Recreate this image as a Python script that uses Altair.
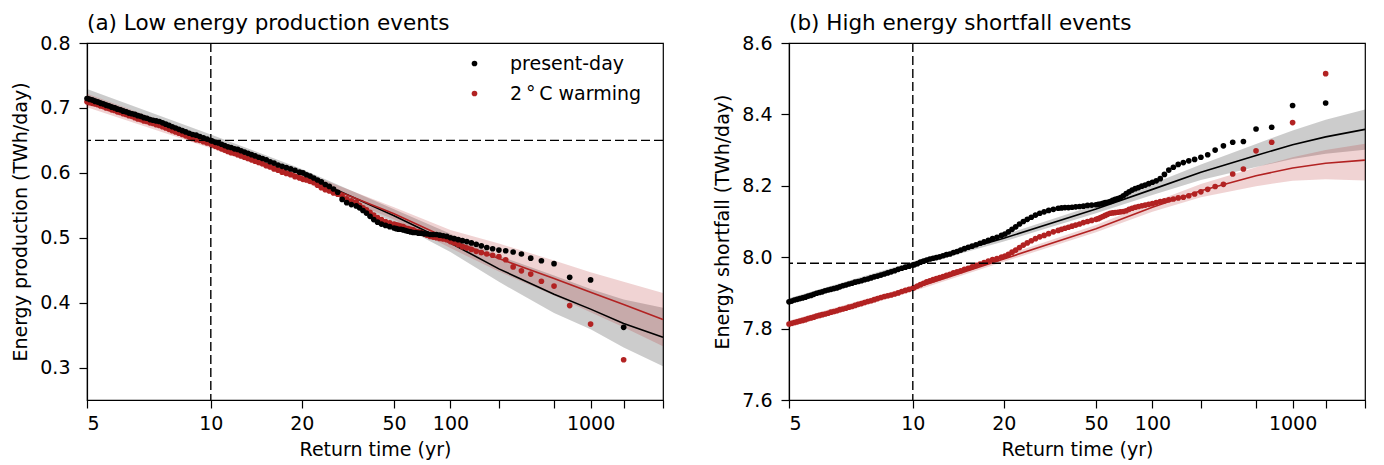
import math

import altair as alt
import pandas as pd

# Empirical return times come from rank in a 2000-year simulated record (T = N / rank).
N_YEARS = 2000
RANKS = (list(range(1, 41)) + list(range(42, 61, 2)) + list(range(63, 100, 3))
         + list(range(102, 199, 4)) + list(range(200, 401, 5)))

SERIES = ["present-day", "2\u2009\u00b0\u2009C warming"]
COLORS = ["#000000", "#b22222"]

# (a) daily energy production, ranked lowest first (TWh/day)
PROD_PRESENT = [
    0.362, 0.435, 0.439, 0.460, 0.4645, 0.4685, 0.475, 0.478, 0.480, 0.481,
    0.483, 0.485, 0.4875, 0.490, 0.492, 0.494, 0.4955, 0.497, 0.4985, 0.500,
    0.502, 0.503, 0.504, 0.505, 0.505, 0.505, 0.506, 0.506, 0.507, 0.507,
    0.508, 0.508, 0.509, 0.510, 0.511, 0.512, 0.513, 0.513, 0.514, 0.515,
    0.517, 0.519, 0.521, 0.524, 0.528, 0.533, 0.538, 0.542, 0.546, 0.549,
    0.551, 0.554, 0.559, 0.570, 0.575, 0.579, 0.582, 0.586, 0.589, 0.592,
    0.595, 0.597, 0.600,
    0.601, 0.604, 0.606, 0.608, 0.610, 0.612, 0.615, 0.617, 0.620, 0.622,
    0.624, 0.626, 0.628, 0.630, 0.632, 0.634, 0.636, 0.637, 0.639, 0.640,
    0.642, 0.644, 0.646, 0.647, 0.649,
    0.6497, 0.652, 0.654, 0.656, 0.658, 0.659, 0.661, 0.663, 0.665, 0.667,
    0.669, 0.671, 0.673, 0.675, 0.677, 0.679, 0.680, 0.681, 0.682, 0.684,
    0.685, 0.687, 0.688, 0.690, 0.691, 0.692, 0.694, 0.695, 0.697, 0.698,
    0.700, 0.701, 0.703, 0.704, 0.706, 0.707, 0.709, 0.710, 0.712, 0.713,
    0.7145,
]
PROD_WARM = [
    0.312, 0.367, 0.3955, 0.4255, 0.433, 0.444, 0.449, 0.455, 0.466, 0.471,
    0.473, 0.475, 0.477, 0.479, 0.482, 0.484, 0.486, 0.489, 0.492, 0.494,
    0.497, 0.498, 0.499, 0.500, 0.501, 0.502, 0.504, 0.506, 0.508, 0.509,
    0.510, 0.512, 0.513, 0.514, 0.515, 0.517, 0.518, 0.519, 0.520, 0.521,
    0.523, 0.525, 0.528, 0.531, 0.535, 0.539, 0.543, 0.546, 0.550, 0.555,
    0.557, 0.560, 0.564, 0.567, 0.569, 0.572, 0.574, 0.577, 0.581, 0.585,
    0.587, 0.589, 0.590,
    0.592, 0.594, 0.597, 0.599, 0.601, 0.604, 0.606, 0.609, 0.611, 0.614,
    0.616, 0.618, 0.620, 0.622, 0.624, 0.626, 0.628, 0.630, 0.631, 0.633,
    0.635, 0.637, 0.639, 0.641, 0.643,
    0.6445, 0.646, 0.648, 0.650, 0.651, 0.653, 0.655, 0.657, 0.659, 0.661,
    0.663, 0.665, 0.667, 0.669, 0.671, 0.673, 0.674, 0.676, 0.677, 0.679,
    0.680, 0.682, 0.683, 0.685, 0.687, 0.688, 0.690, 0.691, 0.693, 0.694,
    0.696, 0.697, 0.699, 0.700, 0.702, 0.703, 0.705, 0.706, 0.707, 0.708,
    0.7093,
]

# (b) daily energy shortfall, ranked highest first (TWh/day)
SHORT_PRESENT = [
    8.432, 8.425, 8.364, 8.359, 8.324, 8.322, 8.312, 8.300, 8.287, 8.280,
    8.274, 8.270, 8.265, 8.260, 8.252, 8.244, 8.232, 8.220, 8.214, 8.210,
    8.206, 8.202, 8.199, 8.195, 8.192, 8.188, 8.183, 8.178, 8.172, 8.167,
    8.164, 8.162, 8.159, 8.156, 8.154, 8.153, 8.151, 8.149, 8.148, 8.147,
    8.146, 8.145, 8.143, 8.142, 8.141, 8.140, 8.139, 8.139, 8.138, 8.137,
    8.134, 8.131, 8.127, 8.123, 8.118, 8.112, 8.106, 8.100, 8.093, 8.085,
    8.078, 8.071, 8.065,
    8.061, 8.056, 8.052, 8.047, 8.043, 8.039, 8.035, 8.031, 8.028, 8.024,
    8.020, 8.016, 8.013, 8.009, 8.007, 8.004, 8.001, 7.999, 7.997, 7.995,
    7.992, 7.989, 7.986, 7.982, 7.979,
    7.978, 7.975, 7.972, 7.969, 7.966, 7.962, 7.959, 7.956, 7.953, 7.950,
    7.947, 7.945, 7.942, 7.939, 7.937, 7.934, 7.932, 7.930, 7.927, 7.925,
    7.922, 7.920, 7.917, 7.914, 7.912, 7.910, 7.908, 7.906, 7.903, 7.901,
    7.899, 7.896, 7.893, 7.891, 7.888, 7.886, 7.884, 7.882, 7.880, 7.877,
    7.875,
]
SHORT_WARM = [
    8.514, 8.377, 8.322, 8.298, 8.247, 8.233, 8.204, 8.198, 8.190, 8.183,
    8.177, 8.172, 8.168, 8.166, 8.163, 8.161, 8.158, 8.156, 8.153, 8.150,
    8.148, 8.146, 8.144, 8.142, 8.140, 8.137, 8.134, 8.130, 8.128, 8.127,
    8.126, 8.125, 8.124, 8.123, 8.120, 8.117, 8.114, 8.111, 8.108, 8.106,
    8.103, 8.100, 8.097, 8.093, 8.090, 8.087, 8.084, 8.081, 8.078, 8.075,
    8.071, 8.066, 8.061, 8.057, 8.052, 8.046, 8.040, 8.034, 8.027, 8.020,
    8.014, 8.008, 8.003,
    8.000, 7.996, 7.993, 7.989, 7.985, 7.981, 7.977, 7.973, 7.969, 7.966,
    7.962, 7.959, 7.956, 7.952, 7.949, 7.946, 7.943, 7.940, 7.937, 7.934,
    7.931, 7.927, 7.923, 7.919, 7.915,
    7.913, 7.910, 7.907, 7.904, 7.900, 7.897, 7.894, 7.892, 7.890, 7.887,
    7.884, 7.881, 7.878, 7.876, 7.873, 7.870, 7.868, 7.865, 7.862, 7.860,
    7.857, 7.855, 7.853, 7.850, 7.848, 7.846, 7.843, 7.841, 7.839, 7.837,
    7.835, 7.832, 7.830, 7.828, 7.825, 7.823, 7.821, 7.819, 7.817, 7.815,
    7.813,
]

# Fitted extreme-value curves with their confidence ranges
FIT_T = [5, 10, 20, 50, 100, 200, 500, 1000, 2000, 5000]
PROD_PRESENT_FIT = [0.718, 0.651, 0.598, 0.534, 0.492, 0.452, 0.413, 0.390, 0.368, 0.3465]
PROD_PRESENT_LO = [0.707, 0.643, 0.590, 0.524, 0.478, 0.432, 0.384, 0.359, 0.331, 0.302]
PROD_PRESENT_HI = [0.729, 0.659, 0.606, 0.544, 0.506, 0.472, 0.442, 0.421, 0.405, 0.392]
PROD_WARM_FIT = [0.711, 0.645, 0.594, 0.537, 0.497, 0.468, 0.437, 0.416, 0.397, 0.374]
PROD_WARM_LO = [0.701, 0.638, 0.587, 0.528, 0.484, 0.448, 0.411, 0.385, 0.362, 0.333]
PROD_WARM_HI = [0.722, 0.653, 0.602, 0.547, 0.512, 0.491, 0.465, 0.447, 0.432, 0.415]
SHORT_PRESENT_FIT = [7.878, 7.980, 8.053, 8.135, 8.190, 8.238, 8.285, 8.315, 8.337, 8.358]
SHORT_PRESENT_LO = [7.871, 7.973, 8.044, 8.123, 8.174, 8.216, 8.253, 8.275, 8.290, 8.301]
SHORT_PRESENT_HI = [7.885, 7.987, 8.062, 8.147, 8.206, 8.260, 8.317, 8.355, 8.385, 8.414]
SHORT_WARM_FIT = [7.812, 7.912, 7.995, 8.080, 8.140, 8.186, 8.228, 8.250, 8.263, 8.272]
SHORT_WARM_LO = [7.803, 7.904, 7.987, 8.070, 8.127, 8.168, 8.199, 8.214, 8.218, 8.215]
SHORT_WARM_HI = [7.822, 7.920, 8.004, 8.090, 8.153, 8.205, 8.252, 8.280, 8.300, 8.318]

# Thresholds: 1-in-10-year event level
REF_T = 10
REF_PROD = 0.65
REF_SHORT = 7.983

XTICKS = [5, 10, 20, 50, 100, 200, 500, 1000, 2000, 5000]
XLABELLED = [5, 10, 20, 50, 100, 1000]

FONT = "DejaVu Sans"


def loglog(t):
    return math.log(math.log(t))


U_EXPR = "log(log(datum.T))"

# ---- tidy tables -----------------------------------------------------------
point_rows = []
for key, series_vals in (("a", (PROD_WARM, PROD_PRESENT)), ("b", (SHORT_WARM, SHORT_PRESENT))):
    # warming drawn first so present-day sits on top
    for name, vals in zip((SERIES[1], SERIES[0]), series_vals):
        assert len(vals) == len(RANKS)
        for r, v in zip(RANKS, vals):
            point_rows.append({"panel": key, "series": name, "rank": r, "value": v})
points_df = pd.DataFrame(point_rows)

fit_rows = []
for key, name, fit, lo, hi in (
    ("a", SERIES[0], PROD_PRESENT_FIT, PROD_PRESENT_LO, PROD_PRESENT_HI),
    ("a", SERIES[1], PROD_WARM_FIT, PROD_WARM_LO, PROD_WARM_HI),
    ("b", SERIES[0], SHORT_PRESENT_FIT, SHORT_PRESENT_LO, SHORT_PRESENT_HI),
    ("b", SERIES[1], SHORT_WARM_FIT, SHORT_WARM_LO, SHORT_WARM_HI),
):
    for t, f, l, h in zip(FIT_T, fit, lo, hi):
        fit_rows.append({"panel": key, "series": name, "T": t, "fit": f, "lo": l, "hi": h})
fit_df = pd.DataFrame(fit_rows)

# ---- shared x axis: return time on a log-log (Gumbel-like) scale -----------
x_scale = alt.Scale(domain=[loglog(5), loglog(5000)], nice=False, zero=False)
label_list = ",".join(str(v) for v in XLABELLED)
x_axis = alt.Axis(
    values=[loglog(t) for t in XTICKS],
    labelExpr=(f"indexof([{label_list}], round(exp(exp(datum.value)))) >= 0 ? "
               "'' + round(exp(exp(datum.value))) : ''"),
    title="Return time (yr)",
    tickSize=8, tickWidth=1.2, labelPadding=6, titlePadding=7,
    labelFontSize=19, titleFontSize=19,
)

PANEL_W = 576
PANEL_H = 357


def panel(key, title, ytitle, ydomain, yticks, ref_y, legend):
    pts = points_df[points_df["panel"] == key]
    fits = fit_df[fit_df["panel"] == key]

    x = alt.X("u:Q", scale=x_scale, axis=x_axis, title="Return time (yr)")
    y_scale = alt.Scale(domain=ydomain, nice=False, zero=False)
    y_axis = alt.Axis(values=yticks, format=".1f", tickSize=8, tickWidth=1.2,
                      labelPadding=9, titlePadding=9, labelFontSize=19, titleFontSize=19)

    def Y(field):
        return alt.Y(field, scale=y_scale, axis=y_axis, title=ytitle)

    layers = []
    for name, color in zip(SERIES, COLORS):
        layers.append(
            alt.Chart(fits[fits["series"] == name])
            .transform_calculate(u=U_EXPR)
            .mark_area(color=color, opacity=0.2)
            .encode(x=x, y=Y("lo:Q"), y2="hi:Q")
        )
    for name, color in zip(SERIES, COLORS):
        layers.append(
            alt.Chart(fits[fits["series"] == name])
            .transform_calculate(u=U_EXPR)
            .mark_line(color=color, strokeWidth=1.6)
            .encode(x=x, y=Y("fit:Q"), order="u:Q")
        )
    layers.append(
        alt.Chart(pts)
        .transform_calculate(T=f"{N_YEARS} / datum.rank")
        .transform_calculate(u=U_EXPR)
        .mark_circle(size=32, opacity=1)
        .encode(
            x=x,
            y=Y("value:Q"),
            color=alt.Color("series:N", scale=alt.Scale(domain=SERIES, range=COLORS),
                            legend=legend),
        )
    )
    dash = dict(color="black", strokeWidth=1.4, strokeDash=[9, 4])
    layers.append(
        alt.Chart(pd.DataFrame({"T": [REF_T]}))
        .transform_calculate(u=U_EXPR)
        .mark_rule(**dash)
        .encode(x=x)
    )
    layers.append(
        alt.Chart(pd.DataFrame({"level": [ref_y]}))
        .mark_rule(**dash)
        .encode(y=Y("level:Q"))
    )
    return alt.layer(*layers).properties(
        width=PANEL_W,
        height=PANEL_H,
        title=alt.TitleParams(title, anchor="start", frame="group", fontSize=21.5,
                              fontWeight="normal", font=FONT, offset=0, color="black"),
    )


legend_a = alt.Legend(
    title=None, orient="none", legendX=378, legendY=11,
    symbolType="circle", symbolSize=32, symbolStrokeWidth=0,
    labelFontSize=19, labelFont=FONT, labelColor="black",
    labelOffset=26, rowPadding=10, padding=0,
)

panel_a = panel("a", "(a) Low energy production events", "Energy production (TWh/day)",
                [0.25, 0.8], [0.3, 0.4, 0.5, 0.6, 0.7, 0.8], REF_PROD, legend_a)
panel_b = panel("b", "(b) High energy shortfall events", "Energy shortfall (TWh/day)",
                [7.6, 8.6], [7.6, 7.8, 8.0, 8.2, 8.4, 8.6], REF_SHORT, None)

chart = (
    alt.hconcat(panel_a, panel_b, spacing=46)
    .resolve_scale(color="independent")
    .properties(padding={"left": 11, "top": 11, "right": 5, "bottom": 5}, background="white")
    .configure_view(stroke="black", strokeWidth=1.2)
    .configure_axis(grid=False, domainColor="black", domainWidth=1.2, tickColor="black",
                    labelColor="black", titleColor="black", labelFont=FONT,
                    titleFont=FONT, titleFontWeight="normal")
)

chart.save("out.html", embed_options={"renderer": "svg", "actions": False})
